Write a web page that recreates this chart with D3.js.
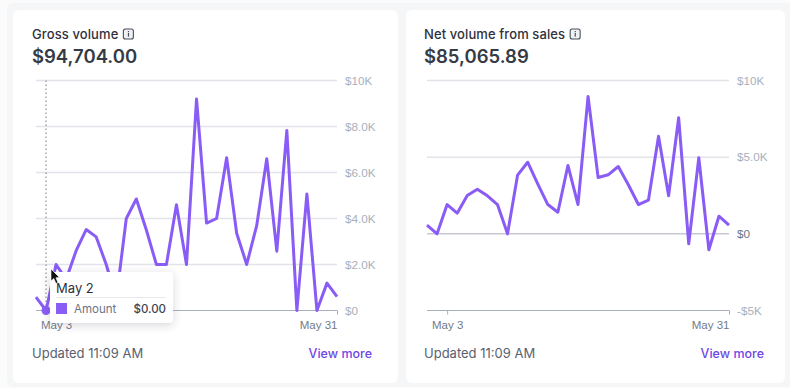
<!DOCTYPE html>
<html>
<head>
<meta charset="utf-8">
<script src="https://cdn.jsdelivr.net/npm/d3@7"></script>
<style>
html, body { margin: 0; padding: 0; background: #fbfbfc; }
svg { display: block; font-family: Inter, "Noto Sans", sans-serif; }
.grid line { stroke: #e1e4e9; stroke-width: 1.5; }
.tick-label { fill: #a8b0bd; }
.date-label { fill: #737b8a; }
.zero-label { fill: #6a7383; }
.title { fill: #30313d; font-size: 13px; font-weight: 500; letter-spacing: 0.1px; }
.total { fill: #353a44; font-size: 18.5px; font-weight: 600; }
.updated { fill: #596171; font-size: 13px; }
.more { fill: #6f47e4; font-size: 12.5px; font-weight: 500; }
</style>
</head>
<body>
<div id="chart"></div>
<script>
const width = 790
const height = 388

const days = d3.range(1, 32)
const dateTicks = [3, 31]

const grossValues = [580, 0, 2000, 1350, 2600, 3520, 3200, 2000, 500, 4000, 4850, 3500, 2000, 2000, 4600, 2000,
    9200, 3800, 4000, 6640, 3360, 2000, 3700, 6600, 2580, 7830, 0, 5070, 0, 1190, 600]
const netValues = [570, 0, 1910, 1350, 2500, 2910, 2480, 1910, 0, 3830, 4670, 3260, 1910, 1410, 4460, 1910,
    8960, 3670, 3850, 4390, 3200, 1910, 2200, 6370, 2480, 7570, -650, 4960, -1040, 1150, 570]

const grossTicks = [0, 2000, 4000, 6000, 8000, 10000]
const grossTickLabels = ['$0', '$2.0K', '$4.0K', '$6.0K', '$8.0K', '$10K']
const netTicks = [-5000, 0, 5000, 10000]
const netTickLabels = ['-$5K', '$0', '$5.0K', '$10K']

const svg = d3.select('#chart').append('svg').attr('width', width).attr('height', height)

// grey band behind the cards
svg.append('rect')
    .attr('x', 7).attr('y', 3)
    .attr('width', 790).attr('height', 384)
    .attr('rx', 6)
    .attr('fill', '#f4f6f8')

drawCard({
    x: 13, w: 385, title: 'Gross volume', total: '$94,704.00',
    left: 36, right: 337, textX: 32, moreX: 372,
    values: grossValues, ticks: grossTicks, labels: grossTickLabels, domain: [0, 10000]
})
drawCard({
    x: 406, w: 379, title: 'Net volume from sales', total: '$85,065.89',
    left: 427, right: 729, textX: 424, moreX: 764,
    values: netValues, ticks: netTicks, labels: netTickLabels, domain: [-5000, 10000]
})

function drawCard(c) {
    const card = svg.append('g')
    card.append('rect')
        .attr('x', c.x).attr('y', 10)
        .attr('width', c.w).attr('height', 373)
        .attr('rx', 6)
        .attr('fill', '#fff')

    const title = card.append('text').attr('class', 'title')
        .attr('x', c.textX).attr('y', 38.5).text(c.title)
    const titleEnd = c.textX + title.node().getComputedTextLength()
    drawInfoIcon(card, titleEnd + 4.5, 28.5)

    card.append('text').attr('class', 'total')
        .attr('x', c.textX).attr('y', 63).text(c.total)

    card.append('text').attr('class', 'updated')
        .attr('x', c.textX).attr('y', 358).text('Updated 11:09 AM')
    card.append('text').attr('class', 'more')
        .attr('x', c.moreX).attr('y', 358).attr('text-anchor', 'end').text('View more')

    const x = d3.scaleLinear().domain([1, 31]).range([c.left, c.right])
    const y = d3.scaleLinear().domain(c.domain).range([310.5, 80.5])

    // gridlines
    const grid = card.append('g').attr('class', 'grid')
    grid.selectAll('line').data(c.ticks).join('line')
        .attr('x1', c.left).attr('x2', c.right)
        .attr('y1', d => y(d)).attr('y2', d => y(d))
        .style('stroke', d => (d === 0 || d === c.domain[0]) ? '#a9aebd' : null)
        .style('stroke-width', d => (d === 0 || d === c.domain[0]) ? 1 : null)

    // y axis labels
    const yAxis = d3.axisRight(y).tickValues(c.ticks)
        .tickFormat((d, i) => c.labels[i]).tickSize(0).tickPadding(0)
    const yGroup = card.append('g')
        .attr('transform', `translate(${c.right + 8}, 0)`)
        .call(yAxis)
    yGroup.select('.domain').remove()
    yGroup.selectAll('text')
        .attr('class', d => d === 0 && c.domain[0] < 0 ? 'zero-label' : 'tick-label')
        .style('font-family', 'inherit')
        .style('font-size', '11.7px')

    // x axis ticks: last label sits inside the plot edge
    const xGroup = card.append('g').attr('transform', 'translate(0, 310.5)')
    const xAxis = d3.axisBottom(x).tickValues(dateTicks)
        .tickFormat(d => `May ${d}`).tickSize(4).tickPadding(6)
    xGroup.call(xAxis)
    xGroup.select('.domain').remove()
    xGroup.selectAll('.tick line').attr('stroke', '#a9aebd')
    xGroup.selectAll('text')
        .attr('class', 'date-label')
        .style('font-family', 'inherit')
        .style('font-size', '11.5px')
        .attr('text-anchor', d => d === 31 ? 'end' : 'middle')

    const line = d3.line().x((d, i) => x(days[i])).y(d => y(d))

    if (c.values === grossValues) {
        // hover guide on May 2
        card.append('line')
            .attr('x1', x(2)).attr('x2', x(2))
            .attr('y1', y(10000)).attr('y2', y(0))
            .attr('stroke', '#8a8f9c')
            .attr('stroke-dasharray', '1.5 2.5')
            .attr('stroke-width', 1.2)
    }

    card.append('path').datum(c.values)
        .attr('d', line)
        .attr('fill', 'none')
        .attr('stroke', '#8a5cf6')
        .attr('stroke-width', 3)
        .attr('stroke-linejoin', 'round')

    if (c.values === grossValues) {
        card.append('circle')
            .attr('cx', x(2)).attr('cy', y(c.values[1]))
            .attr('r', 4.5).attr('fill', '#8a5cf6')
        drawTooltip(card, x(2) + 4, 272)
    }
}

function drawInfoIcon(g, x, y) {
    const icon = g.append('g').attr('transform', `translate(${x}, ${y})`)
    icon.append('rect').attr('x', 0.5).attr('y', 0.5).attr('width', 10).attr('height', 10)
        .attr('rx', 2).attr('fill', '#f0f1f3').attr('stroke', '#474e5a').attr('stroke-width', 1.1)
    icon.append('rect').attr('x', 5).attr('y', 4.5).attr('width', 1.2).attr('height', 3.6).attr('fill', '#474e5a')
    icon.append('rect').attr('x', 5).attr('y', 2.5).attr('width', 1.2).attr('height', 1.2).attr('fill', '#474e5a')
}

function drawTooltip(g, x, y) {
    const defs = svg.append('defs')
    const shadow = defs.append('filter').attr('id', 'tipShadow')
        .attr('x', '-20%').attr('y', '-30%').attr('width', '140%').attr('height', '170%')
    shadow.append('feDropShadow').attr('dx', 0).attr('dy', 2).attr('stdDeviation', 4)
        .attr('flood-color', '#3c4257').attr('flood-opacity', 0.22)

    const tip = g.append('g').attr('transform', `translate(${x}, ${y})`)
    tip.append('rect').attr('width', 123).attr('height', 51).attr('rx', 4)
        .attr('fill', '#fff').attr('filter', 'url(#tipShadow)')
    tip.append('text').attr('x', 6).attr('y', 21).attr('fill', '#30313d')
        .style('font-size', '13px').text('May 2')
    tip.append('line').attr('x1', 6).attr('x2', 116).attr('y1', 25.5).attr('y2', 25.5)
        .attr('stroke', '#e6e8ec').attr('stroke-width', 1)
    tip.append('rect').attr('x', 6).attr('y', 31).attr('width', 11).attr('height', 11)
        .attr('fill', '#8a5cf6')
    tip.append('text').attr('x', 24).attr('y', 41).attr('fill', '#6a7383')
        .style('font-size', '11.5px').text('Amount')
    tip.append('text').attr('x', 116).attr('y', 41).attr('text-anchor', 'end').attr('fill', '#414552')
        .style('font-size', '11.5px').style('font-weight', 500).text('$0.00')

    // mouse pointer from the screenshot
    svg.append('path')
        .attr('transform', 'translate(51, 269)')
        .attr('d', 'M0 0 L0 12 L2.8 9.6 L5 14.5 L7 13.5 L4.9 8.8 L8.4 8.4 Z')
        .attr('fill', '#111').attr('stroke', '#fff').attr('stroke-width', 0.6)
}
</script>
</body>
</html>
